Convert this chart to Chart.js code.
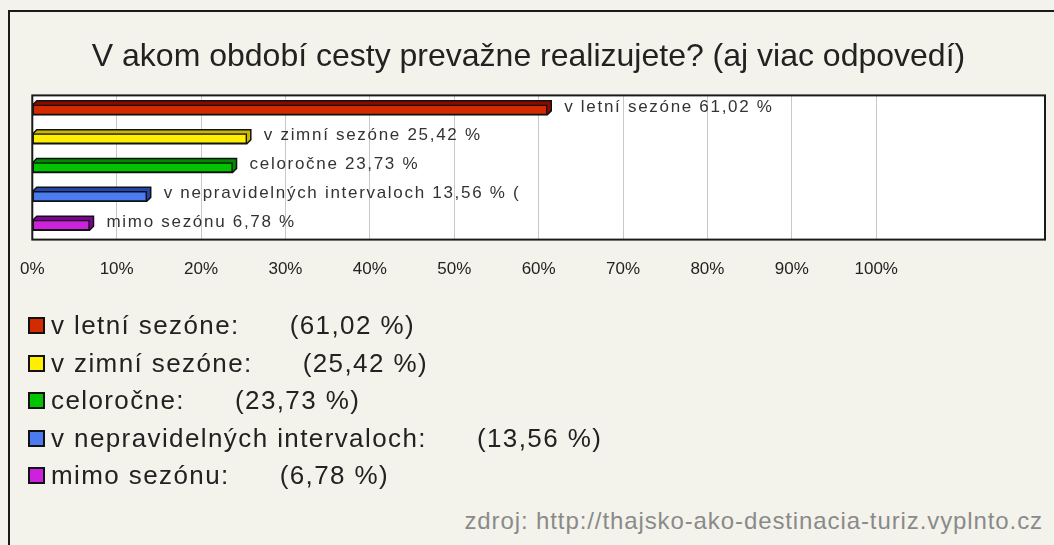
<!DOCTYPE html>
<html>
<head>
<meta charset="utf-8">
<script src="https://cdn.jsdelivr.net/npm/chart.js@4"></script>
<style>
  html, body { margin: 0; padding: 0; background: #f4f3eb; overflow: hidden; }
  #frame {
    position: absolute; left: 8px; top: 10px; width: 1100px; height: 600px;
    border: 2px solid #1a1a1a; box-sizing: border-box; background: #f4f3eb;
  }
  #wrap { position: absolute; left: 0px; top: 12px; width: 1054px; height: 310px; }
  #legenda {
    position: absolute; left: 28px; top: 307px;
    font-family: "Liberation Sans", Arial, sans-serif; font-size: 26px; color: #222;
    letter-spacing: 1.4px;
  }
  .riadok { height: 37.5px; display: flex; align-items: center; white-space: pre; }
  .box { width: 13px; height: 13px; border: 2px solid #111; margin-right: 6px; flex: none; }
  .medzera { display: inline-block; width: 50px; }
  #zdroj {
    position: absolute; right: 11px; top: 507px; letter-spacing: 0.9px;
    font-family: "Liberation Sans", Arial, sans-serif; font-size: 24px; color: #8a8a8a;
  }
</style>
</head>
<body>
<div id="frame"></div>
<div id="wrap"><canvas id="graf"></canvas></div>
<div id="legenda"></div>
<div id="zdroj">zdroj: http://thajsko-ako-destinacia-turiz.vyplnto.cz</div>
<script>
// data z obrazku
const kategorie = ['v letní sezóne', 'v zimní sezóne', 'celoročne', 'v nepravidelných intervaloch', 'mimo sezónu'];
const hodnoty = [61.02, 25.42, 23.73, 13.56, 6.78];
const popisky = ['v letní sezóne 61,02 %', 'v zimní sezóne 25,42 %', 'celoročne 23,73 %', 'v nepravidelných intervaloch 13,56 % (', 'mimo sezónu 6,78 %'];
const tickyX = [0, 10, 20, 30, 40, 50, 60, 70, 80, 90, 100];

const farbyPredok = ['#d42a00', '#ffee00', '#00c400', '#4a7cf0', '#cc22dd'];
const farbyVrch = ['#8a0a00', '#c9b800', '#008a00', '#2146b0', '#82009a'];

const fmt = v => v.toFixed(2).replace('.', ',');

// legenda pod grafom
const leg = document.getElementById('legenda');
kategorie.forEach((k, i) => {
    const r = document.createElement('div');
    r.className = 'riadok';
    r.innerHTML = '<span class="box" style="background:' + farbyPredok[i] + '"></span>' +
        k + ':<span class="medzera"></span>(' + fmt(hodnoty[i]) + ' %)';
    leg.appendChild(r);
});

// 3D efekt - tmavsi zadny obdlznik posunuty hore a doprava
const hlbka = 4;
const plugin3d = {
    id: 'plugin3d',
    beforeDraw(chart) {
        const { ctx, chartArea: a } = chart;
        ctx.save();
        ctx.fillStyle = '#ffffff';
        ctx.fillRect(a.left, a.top, a.right - a.left, a.bottom - a.top);
        ctx.restore();
    },
    beforeDatasetsDraw(chart) {
        const ctx = chart.ctx;
        const meta = chart.getDatasetMeta(0);
        ctx.save();
        meta.data.forEach((el, i) => {
            const h = el.height;
            const x0 = el.base, x1 = el.x, y0 = el.y - h / 2;
            ctx.beginPath();
            ctx.moveTo(x0, y0);
            ctx.lineTo(x0 + hlbka, y0 - hlbka);
            ctx.lineTo(x1 + hlbka, y0 - hlbka);
            ctx.lineTo(x1 + hlbka, y0 + h - hlbka);
            ctx.lineTo(x1, y0 + h);
            ctx.lineTo(x0, y0 + h);
            ctx.closePath();
            ctx.fillStyle = farbyVrch[i];
            ctx.fill();
            ctx.lineWidth = 1.5;
            ctx.strokeStyle = '#111';
            ctx.stroke();
        });
        ctx.restore();
    },
    afterDatasetsDraw(chart) {
        const ctx = chart.ctx;
        const meta = chart.getDatasetMeta(0);
        ctx.save();
        ctx.font = '17px "Liberation Sans", Arial, sans-serif';
        ctx.letterSpacing = '1.7px';
        ctx.fillStyle = '#333';
        ctx.textBaseline = 'middle';
        meta.data.forEach((el, i) => {
            ctx.fillText(popisky[i], el.x + hlbka + 13, el.y - 3);
        });
        ctx.restore();
        const a = chart.chartArea;
        ctx.save();
        ctx.lineWidth = 2;
        ctx.strokeStyle = '#1a1a1a';
        ctx.strokeRect(a.left, a.top, a.right - a.left, a.bottom - a.top);
        ctx.restore();
    }
};

const ctx = document.getElementById('graf').getContext('2d');
new Chart(ctx, {
    type: 'bar',
    data: {
        labels: kategorie,
        datasets: [{
            data: hodnoty,
            backgroundColor: farbyPredok,
            borderColor: '#111',
            borderWidth: 1.5,
            borderSkipped: false,
            barThickness: 10
        }]
    },
    options: {
        indexAxis: 'y',
        responsive: true,
        maintainAspectRatio: false,
        animation: false,
        layout: { padding: { left: 12, right: 9, bottom: 22 } },
        plugins: {
            legend: { display: false },
            tooltip: { enabled: false },
            title: {
                display: true,
                text: 'V akom období cesty prevažne realizujete? (aj viac odpovedí)',
                color: '#222',
                font: { family: '"Liberation Sans", Arial, sans-serif', size: 32, weight: 'normal' },
                padding: { top: 26, bottom: 19 }
            }
        },
        scales: {
            x: {
                min: 0,
                max: 120,
                afterBuildTicks: s => { s.ticks = tickyX.map(v => ({ value: v })); },
                border: { display: false },
                grid: {
                    drawTicks: false,
                    color: c => (c.tick && c.tick.value > 0 ? '#c8c8c8' : 'rgba(0,0,0,0)')
                },
                ticks: {
                    padding: 20,
                    color: '#222',
                    maxRotation: 0,
                    autoSkip: false,
                    font: { family: '"Liberation Sans", Arial, sans-serif', size: 17 },
                    callback: v => v + '%'
                }
            },
            y: {
                display: false
            }
        }
    },
    plugins: [plugin3d]
});
</script>
</body>
</html>
